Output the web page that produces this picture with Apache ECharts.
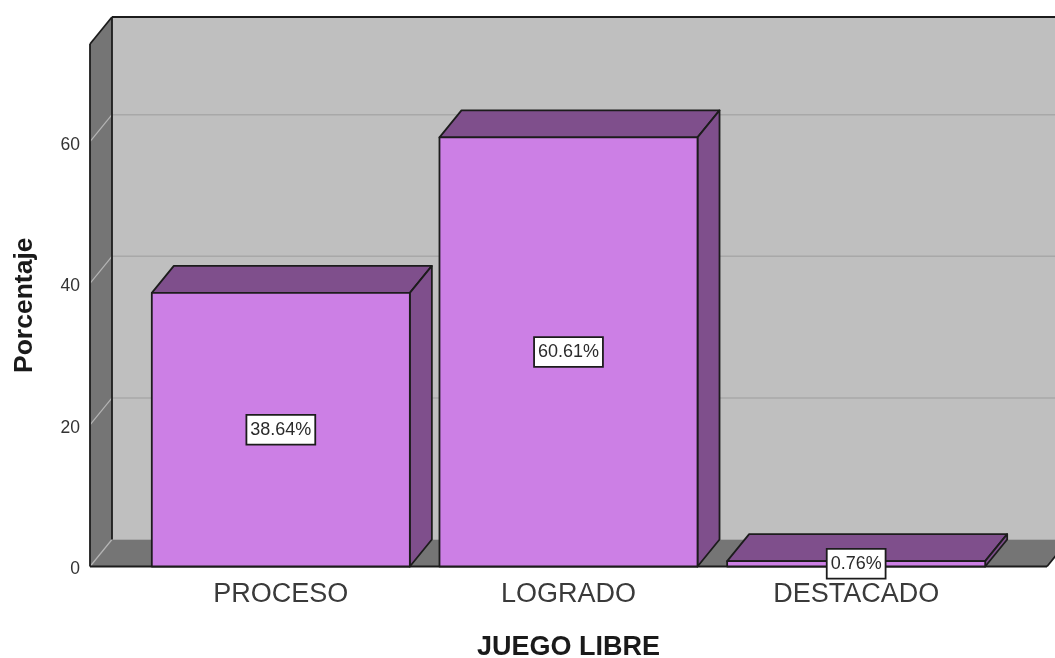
<!DOCTYPE html>
<html>
<head>
<meta charset="utf-8">
<style>
  html, body { margin: 0; padding: 0; background: #fff; }
  #chart { width: 1055px; height: 658px; }
</style>
<script src="https://cdn.jsdelivr.net/npm/echarts@6/dist/echarts.min.js"></script>
</head>
<body>
<div id="chart"></div>
<script>
const categories = ["PROCESO", "LOGRADO", "DESTACADO"];
const values = [38.64, 60.61, 0.76];
const yTicks = [0, 20, 40, 60];
const yMax = 73.8;

// depth of the fake 3D box, in pixels
const dx = 22;
const dy = -27;
const edge = "#1c1c1c";

function poly(points, fill, stroke) {
  return {
    type: "polygon",
    shape: { points },
    style: { fill, stroke: stroke || null, lineWidth: stroke ? 1.8 : 0, lineJoin: "round" },
  };
}

function line(x1, y1, x2, y2, stroke, width) {
  return {
    type: "line",
    shape: { x1, y1, x2, y2 },
    style: { stroke, lineWidth: width },
  };
}

function renderBox(params, api) {
  const [x0, y0] = api.coord([0, 0]);
  const [x1, y1] = api.coord([1, yMax]);
  const children = [
    poly([[x0 + dx, y1 + dy], [x1 + dx, y1 + dy], [x1 + dx, y0 + dy], [x0 + dx, y0 + dy]], "#bfbfbf"),
    poly([[x0, y1], [x0 + dx, y1 + dy], [x0 + dx, y0 + dy], [x0, y0]], "#757575"),
    poly([[x0, y0], [x0 + dx, y0 + dy], [x1 + dx, y0 + dy], [x1, y0]], "#757575"),
  ];
  for (const t of yTicks) {
    const y = api.coord([0, t])[1];
    children.push(line(x0, y, x0 + dx, y + dy, "#b4b4b4", 1.2));
    if (t > 0) children.push(line(x0 + dx, y + dy, x1 + dx, y + dy, "#a8a8a8", 1.5));
  }
  children.push(
    line(x0, y1, x0, y0, edge, 1.8),
    line(x0 + dx, y1 + dy, x0 + dx, y0 + dy, edge, 1.8),
    line(x0, y1, x0 + dx, y1 + dy, edge, 1.8),
    line(x0 + dx, y1 + dy, x1 + dx, y1 + dy, edge, 1.8),
    line(x0, y0, x1, y0, edge, 1.8),
    line(x1, y0, x1 + dx, y0 + dy, edge, 1.8)
  );
  return { type: "group", children };
}

function renderBar(params, api) {
  const i = api.value(0);
  const v = api.value(1);
  const w = api.size([1, 0])[0] * 0.897;
  const cx = api.coord([i, 0])[0];
  const y0 = api.coord([i, 0])[1];
  const yt = api.coord([i, v])[1];
  const l = cx - w / 2;
  const r = cx + w / 2;
  return {
    type: "group",
    children: [
      poly([[l, yt], [l + dx, yt + dy], [r + dx, yt + dy], [r, yt]], "#7f4f8c", edge),
      poly([[r, yt], [r + dx, yt + dy], [r + dx, y0 + dy], [r, y0]], "#7f4f8c", edge),
      poly([[l, yt], [r, yt], [r, y0], [l, y0]], "#cc7fe5", edge),
    ],
  };
}

function renderLabel(params, api) {
  const i = api.value(0);
  const v = api.value(1);
  const [x, y] = api.coord([i, v / 2]);
  return {
    type: "text",
    style: {
      x,
      y,
      text: v.toFixed(2) + "%",
      align: "center",
      verticalAlign: "middle",
      fill: "#2a2a2a",
      font: '18px "Liberation Sans"',
      backgroundColor: "#fff",
      borderColor: edge,
      borderWidth: 1.8,
      padding: [5, 3, 5, 3],
    },
  };
}

const chart = echarts.init(document.getElementById("chart"), null, { renderer: "canvas" });
const barData = values.map((v, i) => [i, v]);

chart.setOption({
  animation: false,
  backgroundColor: "#fff",
  textStyle: { fontFamily: "Liberation Sans" },
  grid: [
    { left: 90, right: 8, top: 44, bottom: 91.5, outerBoundsMode: "none" },
    { left: 137, right: 55, top: 44, bottom: 91.5, outerBoundsMode: "none" },
  ],
  xAxis: [
    { type: "value", gridIndex: 0, min: 0, max: 1, show: false },
    {
      type: "category",
      gridIndex: 1,
      data: categories,
      axisLine: { show: false },
      axisTick: { show: false },
      axisLabel: { margin: 15, fontSize: 27, color: "#3a3a3a", fontFamily: "Liberation Sans" },
      name: "JUEGO LIBRE",
      nameLocation: "middle",
      nameGap: 68,
      nameTextStyle: { fontSize: 27, fontWeight: "bold", color: "#1a1a1a", fontFamily: "Liberation Sans" },
    },
  ],
  yAxis: [
    {
      type: "value",
      gridIndex: 0,
      min: 0,
      max: yMax,
      interval: 20,
      axisLine: { show: false },
      axisTick: { show: false },
      splitLine: { show: false },
      axisLabel: {
        customValues: yTicks,
        margin: 10,
        formatter: "{t|{value}}",
        rich: {
          t: {
            fontSize: 17.5,
            color: "#333",
            fontFamily: "Liberation Sans",
            padding: [6, 0, 0, 0],
          },
        },
      },
      name: "Porcentaje",
      nameLocation: "middle",
      nameGap: 52,
      nameTextStyle: { fontSize: 26.5, fontWeight: "bold", color: "#1a1a1a", fontFamily: "Liberation Sans" },
    },
    { type: "value", gridIndex: 1, min: 0, max: yMax, show: false },
  ],
  series: [
    { type: "custom", xAxisIndex: 0, yAxisIndex: 0, z: 1, silent: true, data: [[0, 0]], renderItem: renderBox },
    { type: "custom", xAxisIndex: 1, yAxisIndex: 1, z: 2, data: barData, renderItem: renderBar },
    { type: "custom", xAxisIndex: 1, yAxisIndex: 1, z: 3, data: barData, renderItem: renderLabel },
  ],
});
</script>
</body>
</html>
